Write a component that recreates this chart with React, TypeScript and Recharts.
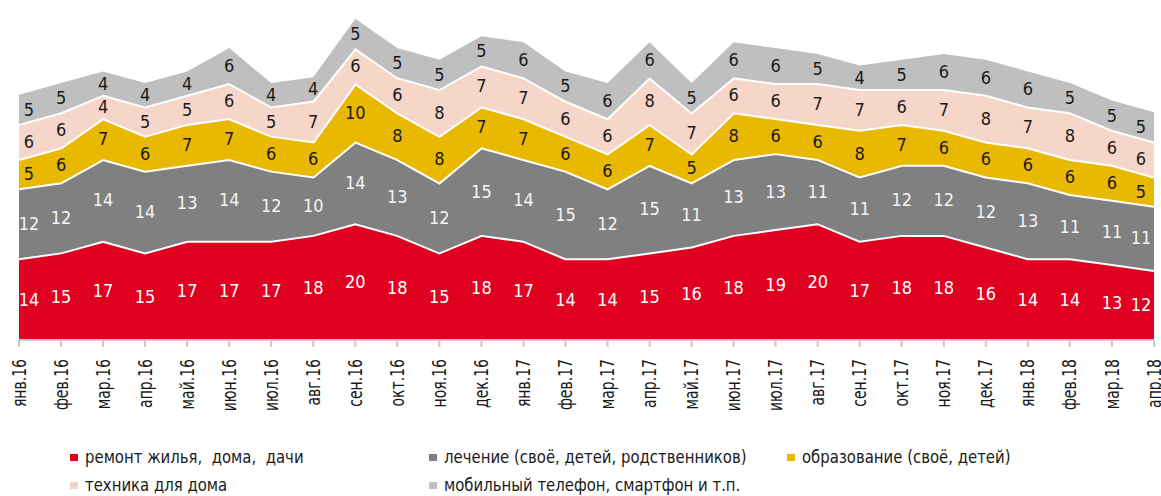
import { ComposedChart, Area, Line, XAxis, YAxis, LabelList } from 'recharts';

const months = [
  'янв.16', 'фев.16', 'мар.16', 'апр.16', 'май.16', 'июн.16', 'июл.16', 'авг.16', 'сен.16', 'окт.16',
  'ноя.16', 'дек.16', 'янв.17', 'фев.17', 'мар.17', 'апр.17', 'май.17', 'июн.17', 'июл.17', 'авг.17',
  'сен.17', 'окт.17', 'ноя.17', 'дек.17', 'янв.18', 'фев.18', 'мар.18', 'апр.18',
];

const remont = [14, 15, 17, 15, 17, 17, 17, 18, 20, 18, 15, 18, 17, 14, 14, 15, 16, 18, 19, 20, 17, 18, 18, 16, 14, 14, 13, 12];
const lechenie = [12, 12, 14, 14, 13, 14, 12, 10, 14, 13, 12, 15, 14, 15, 12, 15, 11, 13, 13, 11, 11, 12, 12, 12, 13, 11, 11, 11];
const obrazovanie = [5, 6, 7, 6, 7, 7, 6, 6, 10, 8, 8, 7, 7, 6, 6, 7, 5, 8, 6, 6, 8, 7, 6, 6, 6, 6, 6, 5];
const tehnika = [6, 6, 4, 5, 5, 6, 5, 7, 6, 6, 8, 7, 7, 6, 6, 8, 7, 6, 6, 7, 7, 6, 7, 8, 7, 8, 6, 6];
const mobilny = [5, 5, 4, 4, 4, 6, 4, 4, 5, 5, 5, 5, 6, 5, 6, 6, 5, 6, 6, 5, 4, 5, 6, 6, 6, 5, 5, 5];

const FONT = '"Liberation Sans Narrow", "DejaVu Sans Condensed", "Noto Sans", sans-serif';

const series = [
  { key: 'remont', name: 'ремонт жилья,  дома,  дачи', values: remont, color: '#e0001f', text: '#ffffff' },
  { key: 'lechenie', name: 'лечение (своё, детей, родственников)', values: lechenie, color: '#808080', text: '#f4f4f4' },
  { key: 'obrazovanie', name: 'образование (своё, детей)', values: obrazovanie, color: '#e9b800', text: '#1a1a1a' },
  { key: 'tehnika', name: 'техника для дома', values: tehnika, color: '#f6d6c9', text: '#1a1a1a' },
  { key: 'mobilny', name: 'мобильный телефон, смартфон и т.п.', values: mobilny, color: '#bfbfbf', text: '#1a1a1a' },
];

// each row: stacked values + middle of every band (for the labels)
const data = months.map((month, i) => {
  const row: Record<string, string | number> = { month };
  let base = 0;
  series.forEach((s) => {
    const v = s.values[i];
    row[s.key] = v;
    row[s.key + '_mid'] = base + v / 2;
    base += v;
  });
  return row;
});

const last = months.length - 1;

function bandLabel(values: number[], color: string) {
  return (props: any) => {
    const { x, y, index } = props;
    let dx = 0;
    if (index === 0) dx = 10;
    if (index === last) dx = -13;
    return (
      <text
        x={x + dx}
        y={y}
        dy="0.36em"
        textAnchor="middle"
        fill={color}
        fontSize={18}
        fontFamily={FONT}
      >
        {values[index]}
      </text>
    );
  };
}

const MonthTick = (props: any) => {
  const { x, y, payload } = props;
  return (
    <text
      transform={`translate(${x},${y + 12}) rotate(-90) scale(0.82,1)`}
      textAnchor="end"
      dominantBaseline="central"
      fill="#1a1a1a"
      fontSize={19}
      fontFamily={FONT}
    >
      {payload.value}
    </text>
  );
};

const legendRows = [
  [
    { s: series[0], left: 70 },
    { s: series[1], left: 429 },
    { s: series[2], left: 787 },
  ],
  [
    { s: series[3], left: 70 },
    { s: series[4], left: 429 },
  ],
];

export default function App() {
  return (
    <div style={{ position: 'absolute', left: 0, top: 0, width: 1161, height: 496, background: '#fff', overflow: 'hidden' }}>
      <ComposedChart
        width={1161}
        height={420}
        data={data}
        margin={{ top: 13, right: 7, left: 19, bottom: 10 }}
      >
        <XAxis
          dataKey="month"
          scale="point"
          height={70}
          interval={0}
          axisLine={{ stroke: '#c8c8c8', strokeWidth: 2 }}
          tickLine={{ stroke: '#c8c8c8', strokeWidth: 2 }}
          tickSize={7}
          tickMargin={0}
          tick={<MonthTick />}
        />
        <YAxis hide domain={[0, 56]} />
        {series.map((s, i) => (
          <Area
            key={s.key}
            dataKey={s.key}
            stackId="a"
            type="linear"
            fill={s.color}
            fillOpacity={1}
            stroke={i === series.length - 1 ? 'none' : '#ffffff'}
            strokeWidth={4}
            isAnimationActive={false}
            activeDot={false}
          />
        ))}
        {series.map((s) => (
          <Line
            key={s.key + '_mid'}
            dataKey={s.key + '_mid'}
            stroke="none"
            dot={false}
            activeDot={false}
            legendType="none"
            isAnimationActive={false}
          >
            <LabelList dataKey={s.key + '_mid'} content={bandLabel(s.values, s.text)} />
          </Line>
        ))}
      </ComposedChart>
      {legendRows.map((row, r) =>
        row.map(({ s, left }) => (
          <div
            key={s.key}
            style={{
              position: 'absolute',
              left,
              top: r === 0 ? 446 : 474,
              height: 22,
              lineHeight: '22px',
              display: 'flex',
              alignItems: 'center',
              fontFamily: FONT,
              fontSize: 18,
              color: '#1a1a1a',
              whiteSpace: 'pre',
            }}
          >
            <span style={{ display: 'inline-block', width: 8, height: 7, background: s.color, marginRight: 7 }} />
            <span style={{ display: 'inline-block', transform: 'scaleX(0.92)', transformOrigin: 'left center' }}>{s.name}</span>
          </div>
        ))
      )}
    </div>
  );
}
